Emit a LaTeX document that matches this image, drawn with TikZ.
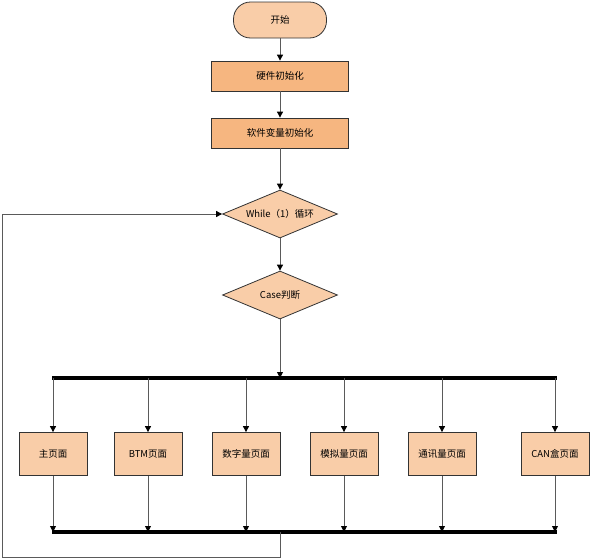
\documentclass[tikz,border=0pt]{standalone}
\usepackage{fontspec}
\usepackage{xcolor}
\usepackage{tikz}
\usetikzlibrary{shapes.geometric,arrows.meta}
\newfontfamily\cjk{Noto Sans CJK SC}
\definecolor{peach}{RGB}{249,205,168}
\definecolor{orangebox}{RGB}{246,182,128}
\definecolor{linegray}{RGB}{90,90,90}

\begin{document}
\begin{tikzpicture}[x=1pt, y=-1pt, ->, >={Triangle[length=6pt,width=6pt,color=black]}, line width=0.9pt, draw=linegray,
   every node/.style={font=\cjk\fontsize{9.5}{11}\selectfont, draw=black!80, line width=0.8pt},
   startbox/.style={rectangle, rounded corners=17pt, fill=peach, minimum width=93pt, minimum height=36pt},
   initbox/.style={rectangle, fill=orangebox, minimum width=137pt, minimum height=30pt},
   choice/.style={diamond, fill=peach, aspect=2.4, inner sep=0pt, minimum width=115pt, minimum height=48pt},
   pagebox/.style={rectangle, fill=peach, minimum width=68pt, minimum height=43pt, inner sep=1pt},
   bar/.style={-, line width=4pt, draw=black}]
   \useasboundingbox (0,0) rectangle (590,560);
   \node [startbox] (start) at (280 , 20) {开始};
   \node [initbox] (hwinit) at (280 , 76) {硬件初始化};
   \node [initbox] (swinit) at (280 , 133) {软件变量初始化};
   \node [choice] (while) at (280 , 214) {While（1）循环};
   \node [choice] (case) at (280 , 295) {Case判断};

   \node [pagebox] (main) at (53 , 454) {主页面};
   \node [pagebox] (btm) at (148 , 454) {BTM页面};
   \node [pagebox] (digital) at (246 , 454) {数字量页面};
   \node [pagebox] (analog) at (344 , 454) {模拟量页面};
   \node [pagebox] (comm) at (442 , 454) {通讯量页面};
   \node [pagebox] (can) at (555 , 454) {CAN盒页面};

   \coordinate (topL) at (52 , 378);
   \coordinate (topR) at (557 , 378);
   \coordinate (botL) at (52 , 532);
   \coordinate (botR) at (557 , 532);
   \coordinate (loopB) at (280 , 557);
   \coordinate (loopL) at (2 , 557);

   \draw (start) -- (hwinit);
   \draw (hwinit) -- (swinit);
   \draw (swinit) -- (while);
   \draw (while) -- (case);
   \draw (case) -- (case |- topL);
   \draw [bar] (topL) -- (topR);
   \draw [bar] (botL) -- (botR);
   \foreach \p in {main, btm, digital, analog, comm, can} {
      \draw (\p |- topL) -- (\p);
      \draw (\p) -- (\p |- botL);
   }
   \draw (case |- botL) -- (loopB) -- (loopL) |- (while.west);
\end{tikzpicture}
\end{document}
